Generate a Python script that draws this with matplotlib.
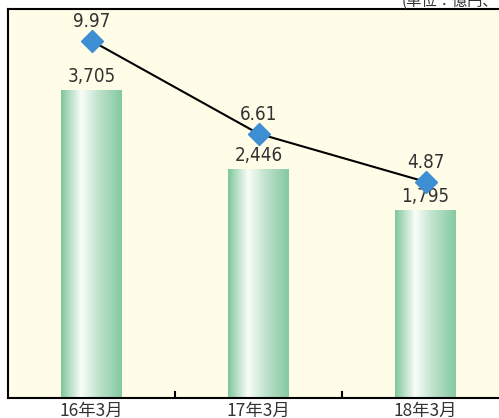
import numpy as np
import matplotlib
matplotlib.use("Agg")
import matplotlib.pyplot as plt
from matplotlib.colors import LinearSegmentedColormap
from matplotlib import font_manager as fm

categories = ["16年3月", "17年3月", "18年3月"]
bar_values = [3705, 2446, 1795]
bar_labels = ["3,705", "2,446", "1,795"]
line_values = [9.97, 6.61, 4.87]
line_labels = ["9.97", "6.61", "4.87"]
unit_text = "(単位：億円、%)"

names = sorted({f.name for f in fm.fontManager.ttflist})
cond = [n for n in ["Liberation Sans Narrow", "DejaVu Sans Condensed"] if n in names]
has_cond_stretch = any(f.name == "DejaVu Sans" and f.stretch == "condensed"
                       for f in fm.fontManager.ttflist)
NUMFONT = cond + ["DejaVu Sans"]
plt.rcParams["font.family"] = ["Noto Sans CJK JP", "DejaVu Sans"]
TXT = "#333333"
num_kw = dict(family=NUMFONT)
if not cond and has_cond_stretch:
    num_kw["fontstretch"] = "condensed"

fig = plt.figure(figsize=(4.99, 4.18), dpi=100, facecolor="white")
ax = fig.add_axes([8/499, 20/418, 501/499, 389/418])
ax.set_facecolor("#FFFDE8")

x = np.arange(len(categories))
bar_bottom = -1207
ax.set_xlim(-0.5, 2.5)
ax.set_ylim(bar_bottom, 4997)

bars = ax.bar(x, np.array(bar_values) - bar_bottom, bottom=bar_bottom,
              width=0.365, color="none", edgecolor="none", zorder=2)

cmap = LinearSegmentedColormap.from_list(
    "g", [(0.0, "#7EC69C"), (0.33, "#FAFDF9"), (0.62, "#BFE2CC"), (1.0, "#84C9A1")])
grad = np.linspace(0, 1, 256).reshape(1, -1)
for rect in bars:
    x0, y0 = rect.get_x(), rect.get_y()
    w, h = rect.get_width(), rect.get_height()
    im = ax.imshow(grad, cmap=cmap, aspect="auto", extent=[x0, x0 + w, y0, y0 + h],
                   zorder=2, interpolation="bilinear")
    im.set_clip_path(rect)

for xi, v, lab in zip(x, bar_values, bar_labels):
    ax.annotate(lab, (xi, v), xytext=(0, 3), textcoords="offset points",
                ha="center", va="bottom", fontsize=13.5, color=TXT, zorder=5, **num_kw)

ax.set_xticks(x)
ax.set_xticklabels(categories, fontsize=12.5, color=TXT)
ax.tick_params(axis="x", which="major", length=0, pad=3)
ax.set_xticks([0.5, 1.5], minor=True)
ax.tick_params(axis="x", which="minor", direction="in", length=5, width=1.5, color="black")
ax.set_yticks([])
for s in ["left", "bottom", "top", "right"]:
    ax.spines[s].set_linewidth(1.5)
    ax.spines[s].set_color("black")

ax2 = ax.twinx()
ax2.set_ylim(-2.95, 11.12)
ax2.plot(x, line_values, color="black", lw=1.5, zorder=3)
ax2.plot(x, line_values, linestyle="none", marker="D", ms=11, color="#3D8ED2",
         markeredgecolor="#3D8ED2", zorder=4)
for xi, v, lab in zip(x, line_values, line_labels):
    ax2.annotate(lab, (xi, v), xytext=(0, 7), textcoords="offset points",
                 ha="center", va="bottom", fontsize=13.5, color=TXT, zorder=5, **num_kw)
ax2.set_yticks([])
for s in ax2.spines.values():
    s.set_visible(False)

fig.text(402/499, 1 - 6/418, unit_text, ha="left", va="baseline",
         fontsize=11, color=TXT)

fig.savefig("out.png", dpi=100, facecolor="white")
